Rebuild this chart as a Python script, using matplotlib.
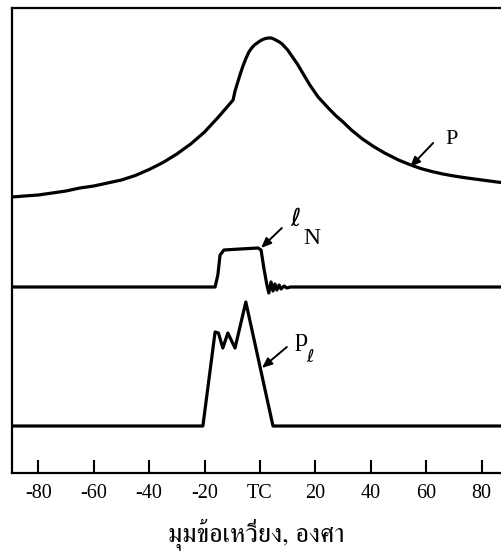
import matplotlib
matplotlib.use("Agg")

import matplotlib.pyplot as plt
from matplotlib import font_manager
from matplotlib.ft2font import FT2Font

# crank angle (deg) and heights of the three traces
p_angle = [-89.5, -85, -80, -75, -70, -65, -60, -55, -50, -45, -40, -35, -30,
           -25, -20, -15, -9.7, -9, -8, -7, -6, -5, -4, -3, -2, -1, 0, 1, 2, 3,
           4, 5, 6, 7, 8, 9, 10, 11, 12, 13.5, 15, 16.5, 18, 19.5, 21, 23, 25,
           27.5, 30, 33, 37, 41, 45, 50, 54, 58, 62, 66, 70, 74, 78, 82, 87]
p_val = [276, 277, 278, 280, 282, 285, 287, 290, 293, 297.5, 303.5, 310.5, 319,
         329, 341, 356, 373, 382, 391, 400, 408, 415, 421, 425, 428, 430, 432,
         433.5, 434.5, 435, 435, 434, 432.5, 431, 429, 426, 423, 419, 415, 409,
         402, 395, 388, 382, 376, 370, 364, 357, 351, 343, 334, 326.5, 320, 313,
         308.5, 304.5, 301.5, 299, 297, 295.3, 293.8, 292.3, 290.5]

ln_angle = [-89.5, -16.2, -15.2, -14.4, -13, -7.2, -0.7, 0.4, 1.4, 2.5, 3.2, 4.0,
            4.7, 5.4, 6.1, 6.9, 7.6, 8.7, 9.7, 11, 87]
ln_val = [186, 186, 198, 218, 223, 224, 225, 223, 205, 188, 180, 191, 182, 189,
          183, 188, 184, 187, 185, 186, 186]

pl_angle = [-89.5, -20.6, -16.2, -15.0, -13.4, -11.6, -9.0, -5.1, 4.7, 87]
pl_val = [47, 47, 141, 140, 125, 140, 125, 171, 47, 47]

tick_pos = [-80, -60, -40, -20, 0, 20, 40, 60, 80]
tick_lbl = ["-80", "-60", "-40", "-20", "TC", "20", "40", "60", "80"]
xlabel = "มุมข้อเหวี่ยง, องศา"


def thai_font():
    # pick an installed font that has Thai glyphs
    found = []
    for f in font_manager.fontManager.ttflist:
        try:
            cmap = FT2Font(f.fname).get_charmap()
        except Exception:
            continue
        if ord("ม") in cmap and ord("ุ") in cmap:
            found.append(f.name)
    for name in found:
        if "Serif" in name or "Looped" in name:
            return name
    return found[0] if found else "DejaVu Sans"


serif = "Liberation Serif"
plt.rcParams["font.family"] = serif

fig = plt.figure(figsize=(5.01, 5.55), dpi=100)
ax = fig.add_axes([12 / 501, 82 / 555, 489 / 501, 465 / 555])

lw = 2.3
ax.plot(p_angle, p_val, color="black", lw=lw, solid_joinstyle="round")
ax.plot(ln_angle, ln_val, color="black", lw=lw, solid_joinstyle="round")
ax.plot(pl_angle, pl_val, color="black", lw=lw, solid_joinstyle="round")

ax.set_xlim(-89.5, 87)
ax.set_ylim(0, 465)

for s in ["left", "top", "bottom"]:
    ax.spines[s].set_linewidth(1.6)
ax.spines["right"].set_visible(False)

ax.set_xticks(tick_pos)
ax.set_xticklabels(tick_lbl, fontsize=14.5)
ax.tick_params(axis="x", direction="in", length=9.5, width=1.5, pad=8)
ax.set_yticks([])

arrow = dict(arrowstyle="-|>,head_length=0.6,head_width=0.25", color="black",
             lw=1.4, shrinkA=0, shrinkB=0)
ax.annotate("", xy=(54.2, 306), xytext=(62.5, 330), arrowprops=arrow)
ax.text(67.0, 334, "P", fontsize=16, va="center", ha="left")

ax.annotate("", xy=(0.4, 225), xytext=(7.9, 245), arrowprops=arrow)
ax.text(11.0, 253, r"$\ell$", fontsize=18, va="center", ha="left")
ax.text(15.5, 235, "N", fontsize=17, va="center", ha="left")

ax.annotate("", xy=(0.7, 105), xytext=(9.7, 126), arrowprops=arrow)
ax.text(12.5, 133, "p", fontsize=19, va="center", ha="left")
ax.text(16.5, 115, r"$\ell$", fontsize=13, va="center", ha="left")

ax.set_xlabel(xlabel, fontsize=19, family=[thai_font(), "DejaVu Sans"],
              labelpad=11)

fig.savefig("out.png", dpi=100)
plt.close(fig)
